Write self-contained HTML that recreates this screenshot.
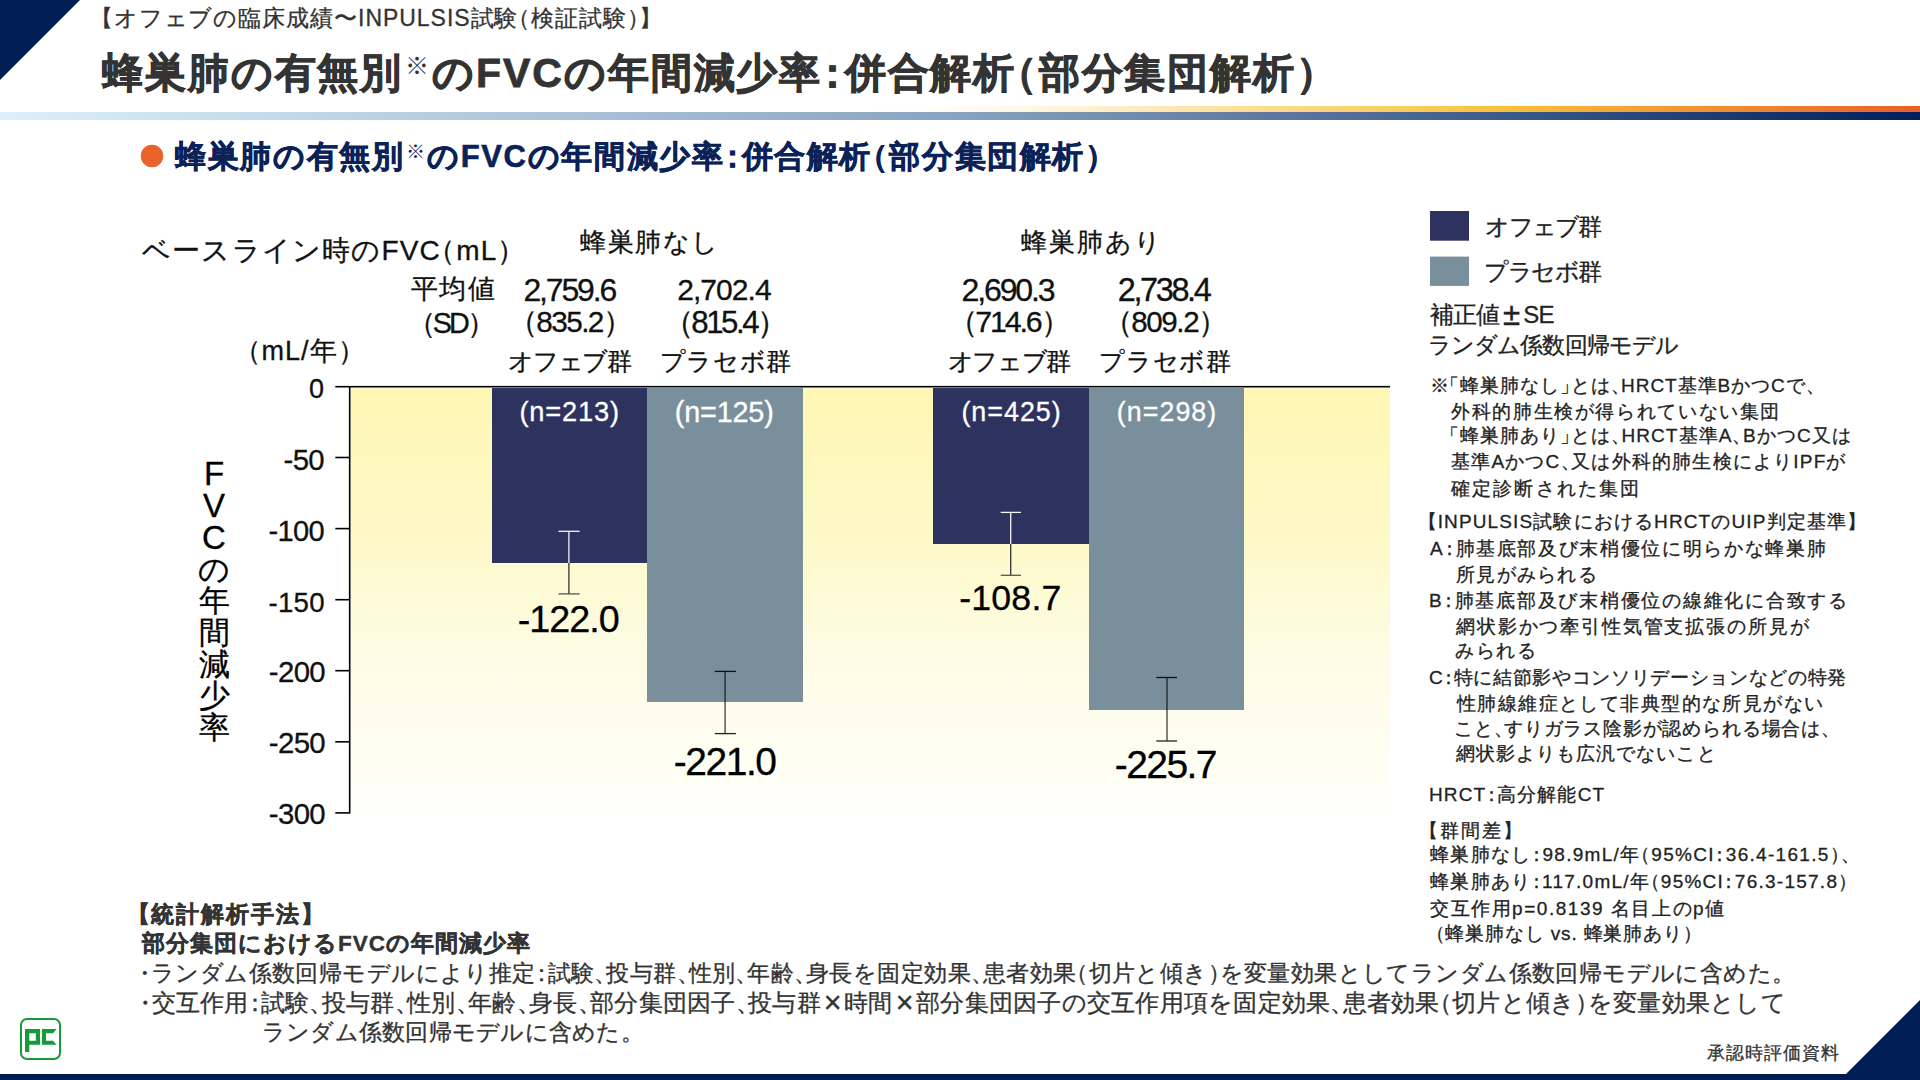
<!DOCTYPE html>
<html lang="ja">
<head>
<meta charset="utf-8">
<style>
html,body{margin:0;padding:0;}
body{width:1920px;height:1080px;position:relative;overflow:hidden;background:#fff;font-family:"Liberation Sans",sans-serif;color:#111;}
.a{position:absolute;white-space:nowrap;line-height:1;-webkit-text-stroke-width:0.3px;}
</style>
</head>
<body>
<svg class="a" style="left:0;top:0" width="1920" height="1080">
  <defs>
    <linearGradient id="go" x1="0" x2="1" y1="0" y2="0">
      <stop offset="0" stop-color="#fff" stop-opacity="0"/>
      <stop offset="0.44" stop-color="#fff" stop-opacity="0"/>
      <stop offset="0.56" stop-color="#fff2d4"/>
      <stop offset="0.78" stop-color="#f8c23a"/>
      <stop offset="1" stop-color="#e8602a"/>
    </linearGradient>
    <linearGradient id="gn" x1="0" x2="1" y1="0" y2="0">
      <stop offset="0" stop-color="#dcf0fb"/>
      <stop offset="0.5" stop-color="#89a2be"/>
      <stop offset="0.78" stop-color="#3d5a8a"/>
      <stop offset="1" stop-color="#001e5a"/>
    </linearGradient>
    <linearGradient id="bg" x1="0" x2="0" y1="0" y2="1">
      <stop offset="0" stop-color="#fff7b4"/>
      <stop offset="0.35" stop-color="#fdf9c8"/>
      <stop offset="0.62" stop-color="#fefce4"/>
      <stop offset="1" stop-color="#fffffa"/>
    </linearGradient>
  </defs>
  <polygon points="0,0 80,0 0,80" fill="#001e54"/>
  <rect x="0" y="106" width="1920" height="6" fill="url(#go)"/>
  <rect x="0" y="112" width="1920" height="8" fill="url(#gn)"/>
  <rect x="0" y="1074" width="1920" height="6" fill="#001b52"/>
  <polygon points="1846,1074 1920,1000 1920,1080 1846,1080" fill="#001d55"/>
  <circle cx="152" cy="156" r="11.2" fill="#e8622a"/>
  <rect x="350.5" y="388.4" width="1039.5" height="426" fill="url(#bg)"/>
  <rect x="492" y="388" width="155" height="175" fill="#2d325e"/>
  <rect x="647" y="388" width="156" height="314" fill="#7a8f9c"/>
  <rect x="933" y="388" width="156" height="156" fill="#2d325e"/>
  <rect x="1089" y="388" width="155" height="322" fill="#7a8f9c"/>
  <rect x="335.3" y="385.9" width="1054.7" height="1.6" fill="#000"/>
  <rect x="348.9" y="386" width="1.6" height="427.6" fill="#000"/>
  <g fill="#000">
    <rect x="335.3" y="456.7" width="14" height="1.6"/>
    <rect x="335.3" y="527.8" width="14" height="1.6"/>
    <rect x="335.3" y="598.9" width="14" height="1.6"/>
    <rect x="335.3" y="669.9" width="14" height="1.6"/>
    <rect x="335.3" y="741.0" width="14" height="1.6"/>
    <rect x="335.3" y="812.1" width="14" height="1.6"/>
  </g>
  <g stroke-width="1.3" fill="none">
    <line x1="568.9" y1="531.3" x2="568.9" y2="563" stroke="#f4f4f8"/>
    <line x1="558.5" y1="531.3" x2="579.6" y2="531.3" stroke="#f4f4f8"/>
    <line x1="568.9" y1="563" x2="568.9" y2="594" stroke="#333"/>
    <line x1="558.5" y1="593.9" x2="579.6" y2="593.9" stroke="#555"/>
    <line x1="725.1" y1="671.4" x2="725.1" y2="733.6" stroke="#000" stroke-opacity="0.62" stroke-width="1.6"/>
    <line x1="714.8" y1="671.4" x2="735.9" y2="671.4" stroke="#111"/>
    <line x1="714.8" y1="733.6" x2="735.9" y2="733.6" stroke="#222"/>
    <line x1="1010.7" y1="512.4" x2="1010.7" y2="544" stroke="#f4f4f8"/>
    <line x1="1000.7" y1="512.4" x2="1021" y2="512.4" stroke="#f4f4f8"/>
    <line x1="1010.7" y1="544" x2="1010.7" y2="575.3" stroke="#333"/>
    <line x1="1000.7" y1="575.3" x2="1021" y2="575.3" stroke="#555"/>
    <line x1="1167" y1="677.5" x2="1167" y2="741" stroke="#000" stroke-opacity="0.62" stroke-width="1.6"/>
    <line x1="1156.3" y1="677.5" x2="1177" y2="677.5" stroke="#111"/>
    <line x1="1156.3" y1="741" x2="1177" y2="741" stroke="#222"/>
  </g>
  <rect x="1430" y="211" width="39" height="29.7" fill="#2d325e"/>
  <rect x="1430" y="256.6" width="39" height="29.3" fill="#7a8f9c"/>
  <rect x="21" y="1019" width="39" height="40" rx="6" ry="6" fill="none" stroke="#169b3a" stroke-width="2"/>
  <path d="M25,1029 H40 V1044.8 H29.3 V1052 H25 Z M29.3,1033.3 V1040.7 H35.8 V1033.3 Z" fill="#169b3a" fill-rule="evenodd"/>
  <path d="M42,1029 H56.7 L53,1033.3 H46 V1040.7 H53 L56.7,1044.8 H42 Z" fill="#169b3a"/>
</svg>
<div class="a" style="left:174px;top:457.4px;width:80px;text-align:center;font-size:33px;color:#000">F</div>
<div class="a" style="left:174px;top:489.1px;width:80px;text-align:center;font-size:33px;color:#000">V</div>
<div class="a" style="left:174px;top:520.8px;width:80px;text-align:center;font-size:33px;color:#000">C</div>
<div class="a" style="left:174px;top:553.5px;width:80px;text-align:center;font-size:31px;color:#000">の</div>
<div class="a" style="left:174px;top:585.2px;width:80px;text-align:center;font-size:31px;color:#000">年</div>
<div class="a" style="left:174px;top:616.9px;width:80px;text-align:center;font-size:31px;color:#000">間</div>
<div class="a" style="left:174px;top:648.6px;width:80px;text-align:center;font-size:31px;color:#000">減</div>
<div class="a" style="left:174px;top:680.3px;width:80px;text-align:center;font-size:31px;color:#000">少</div>
<div class="a" style="left:174px;top:712.0px;width:80px;text-align:center;font-size:31px;color:#000">率</div>
<div class="a t" id="sub" style="left:101.20px;top:7.29px;font-size:23.00px;letter-spacing:0.948px;color:#333"><span style="margin-left:-.5em">【</span>オフェブの臨床成績〜INPULSIS試験<span style="margin-left:-.5em">（</span>検証試験<span style="margin-right:-.5em">）</span><span style="margin-right:-.5em">】</span></div>
<div class="a t" id="title" style="left:102.00px;top:52.58px;font-size:41.00px;letter-spacing:1.900px;color:#333;font-weight:bold;-webkit-text-stroke:0.8px #333">蜂巣肺の有無別<span style="font-size:24px;font-weight:normal;-webkit-text-stroke:0;vertical-align:top;position:relative;top:1.0px;left:1.5px;margin-right:3.0px">※</span>のFVCの年間減少率<span style="margin-left:-.25em;margin-right:-.25em">：</span>併合解析<span style="margin-left:-.5em">（</span>部分集団解析<span style="margin-right:-.5em">）</span></div>
<div class="a t" id="sect" style="left:175.00px;top:140.88px;font-size:31.00px;letter-spacing:1.633px;color:#0b2259;font-weight:bold;-webkit-text-stroke:0.6px #0b2259">蜂巣肺の有無別<span style="font-size:19px;font-weight:normal;-webkit-text-stroke:0;vertical-align:top;position:relative;top:1.0px;left:1.5px;margin-right:2.0px">※</span>のFVCの年間減少率<span style="margin-left:-.25em;margin-right:-.25em">：</span>併合解析<span style="margin-left:-.5em">（</span>部分集団解析<span style="margin-right:-.5em">）</span></div>
<div class="a t" id="base" style="left:142.00px;top:236.84px;font-size:28.00px;letter-spacing:1.179px;color:#111">ベースライン時のFVC<span style="margin-left:-.5em">（</span>mL<span style="margin-right:-.5em">）</span></div>
<div class="a t" id="g1" style="left:580.00px;top:228.53px;font-size:26.00px;letter-spacing:1.500px;color:#111">蜂巣肺なし</div>
<div class="a t" id="g2" style="left:1021.00px;top:228.78px;font-size:26.00px;letter-spacing:1.875px;color:#111">蜂巣肺あり</div>
<div class="a t" id="avg" style="left:411.00px;top:275.86px;font-size:27.00px;letter-spacing:1.250px;color:#111">平均値</div>
<div class="a t" id="sd" style="left:421.30px;top:308.78px;font-size:28.80px;letter-spacing:-3.055px;color:#111"><span style="margin-left:-.5em">（</span>SD<span style="margin-right:-.5em">）</span></div>
<div class="a t" id="mly" style="left:247.00px;top:337.51px;font-size:27.00px;letter-spacing:1.000px;color:#111"><span style="margin-left:-.5em">（</span>mL/年<span style="margin-right:-.5em">）</span></div>
<div class="a t" id="m1" style="left:523.40px;top:273.74px;font-size:31.99px;letter-spacing:-2.132px;color:#111">2,759.6</div>
<div class="a t" id="m2" style="left:677.20px;top:274.74px;font-size:30.04px;letter-spacing:-0.950px;color:#111">2,702.4</div>
<div class="a t" id="m3" style="left:961.50px;top:273.74px;font-size:32.08px;letter-spacing:-2.153px;color:#111">2,690.3</div>
<div class="a t" id="m4" style="left:1117.80px;top:273.99px;font-size:32.50px;letter-spacing:-2.417px;color:#111">2,738.4</div>
<div class="a t" id="s1" style="left:522.70px;top:307.16px;font-size:29.72px;letter-spacing:-1.574px;color:#111"><span style="margin-left:-.5em">（</span>835.2<span style="margin-right:-.5em">）</span></div>
<div class="a t" id="s2" style="left:678.30px;top:306.81px;font-size:31.24px;letter-spacing:-2.457px;color:#111"><span style="margin-left:-.5em">（</span>815.4<span style="margin-right:-.5em">）</span></div>
<div class="a t" id="s3" style="left:962.70px;top:305.56px;font-size:30.38px;letter-spacing:-2.154px;color:#111"><span style="margin-left:-.5em">（</span>714.6<span style="margin-right:-.5em">）</span></div>
<div class="a t" id="s4" style="left:1117.50px;top:306.71px;font-size:29.54px;letter-spacing:-1.410px;color:#111"><span style="margin-left:-.5em">（</span>809.2<span style="margin-right:-.5em">）</span></div>
<div class="a t" id="o1" style="left:508.00px;top:348.75px;font-size:25.00px;letter-spacing:-1.175px;color:#111">オフェブ群</div>
<div class="a t" id="p1" style="left:659.90px;top:348.55px;font-size:25.00px;letter-spacing:0.550px;color:#111">プラセボ群</div>
<div class="a t" id="o2" style="left:947.80px;top:349.00px;font-size:25.00px;letter-spacing:-1.325px;color:#111">オフェブ群</div>
<div class="a t" id="p2" style="left:1099.00px;top:348.60px;font-size:25.00px;letter-spacing:0.800px;color:#111">プラセボ群</div>
<div class="a t" id="t0" style="left:309.00px;top:376.46px;font-size:27.00px;letter-spacing:0.000px;color:#111">0</div>
<div class="a t" id="t50" style="left:283.60px;top:445.16px;font-size:29.35px;letter-spacing:-0.675px;color:#111">-50</div>
<div class="a t" id="t100" style="left:268.60px;top:517.11px;font-size:29.11px;letter-spacing:-0.715px;color:#111">-100</div>
<div class="a t" id="t150" style="left:268.60px;top:589.21px;font-size:27.65px;letter-spacing:0.210px;color:#111">-150</div>
<div class="a t" id="t200" style="left:268.80px;top:657.46px;font-size:29.37px;letter-spacing:-0.632px;color:#111">-200</div>
<div class="a t" id="t250" style="left:268.80px;top:728.06px;font-size:29.37px;letter-spacing:-0.632px;color:#111">-250</div>
<div class="a t" id="t300" style="left:268.80px;top:799.26px;font-size:29.37px;letter-spacing:-0.632px;color:#111">-300</div>
<div class="a t" id="n1" style="left:519.40px;top:397.91px;font-size:27.25px;letter-spacing:0.834px;color:#fff">(n=213)</div>
<div class="a t" id="n2" style="left:674.80px;top:397.91px;font-size:28.81px;letter-spacing:-0.179px;color:#fff">(n=125)</div>
<div class="a t" id="n3" style="left:961.40px;top:398.76px;font-size:26.86px;letter-spacing:1.000px;color:#fff">(n=425)</div>
<div class="a t" id="n4" style="left:1116.80px;top:398.76px;font-size:26.78px;letter-spacing:1.071px;color:#fff">(n=298)</div>
<div class="a t" id="v1" style="left:517.80px;top:600.61px;font-size:37.73px;letter-spacing:-0.994px;color:#000">-122.0</div>
<div class="a t" id="v2" style="left:673.80px;top:743.06px;font-size:38.97px;letter-spacing:-1.479px;color:#000">-221.0</div>
<div class="a t" id="v3" style="left:959.20px;top:581.16px;font-size:35.67px;letter-spacing:0.208px;color:#000">-108.7</div>
<div class="a t" id="v4" style="left:1114.80px;top:745.21px;font-size:39.06px;letter-spacing:-1.590px;color:#000">-225.7</div>
<div class="a t" id="lg1" style="left:1485.40px;top:215.27px;font-size:24.00px;letter-spacing:-1.850px;color:#222">オフェブ群</div>
<div class="a t" id="lg2" style="left:1484.40px;top:260.47px;font-size:24.00px;letter-spacing:-1.600px;color:#222">プラセボ群</div>
<div class="a t" id="se" style="left:1430.00px;top:302.52px;font-size:24.00px;letter-spacing:-0.900px;color:#222">補正値<span style="display:inline-block;width:1em;text-align:center;transform:scale(1.3)">±</span>SE</div>
<div class="a t" id="rnd" style="left:1427.80px;top:334.24px;font-size:23.00px;letter-spacing:-0.860px;color:#222">ランダム係数回帰モデル</div>
<div class="a t" id="nt1" style="left:1430.00px;top:376.22px;font-size:19.00px;letter-spacing:0.955px;color:#222">※<span style="margin-left:-.5em">「</span>蜂巣肺なし<span style="margin-right:-.5em">」</span>とは<span style="margin-right:-.5em">、</span>HRCT基準BかつCで<span style="margin-right:-.5em">、</span></div>
<div class="a t" id="nt2" style="left:1451.00px;top:401.52px;font-size:19.00px;letter-spacing:1.633px;color:#222">外科的肺生検が得られていない集団</div>
<div class="a t" id="nt3" style="left:1449.00px;top:426.27px;font-size:19.00px;letter-spacing:1.087px;color:#222"><span style="margin-left:-.5em">「</span>蜂巣肺あり<span style="margin-right:-.5em">」</span>とは<span style="margin-right:-.5em">、</span>HRCT基準A<span style="margin-right:-.5em">、</span>BかつC又は</div>
<div class="a t" id="nt4" style="left:1451.00px;top:451.77px;font-size:19.00px;letter-spacing:1.190px;color:#222">基準AかつC<span style="margin-right:-.5em">、</span>又は外科的肺生検によりIPFが</div>
<div class="a t" id="nt5" style="left:1451.00px;top:478.77px;font-size:19.00px;letter-spacing:2.125px;color:#222">確定診断された集団</div>
<div class="a t" id="cr0" style="left:1427.00px;top:512.37px;font-size:19.00px;letter-spacing:1.130px;color:#222"><span style="margin-left:-.5em">【</span>INPULSIS試験におけるHRCTのUIP判定基準<span style="margin-right:-.5em">】</span></div>
<div class="a t" id="cr1" style="left:1430.00px;top:539.12px;font-size:19.00px;letter-spacing:1.658px;color:#222">A<span style="margin-left:-.25em;margin-right:-.25em">：</span>肺基底部及び末梢優位に明らかな蜂巣肺</div>
<div class="a t" id="cr2" style="left:1456.00px;top:564.62px;font-size:19.00px;letter-spacing:1.250px;color:#222">所見がみられる</div>
<div class="a t" id="cr3" style="left:1429.00px;top:590.62px;font-size:19.00px;letter-spacing:1.750px;color:#222">B<span style="margin-left:-.25em;margin-right:-.25em">：</span>肺基底部及び末梢優位の線維化に合致する</div>
<div class="a t" id="cr4" style="left:1456.00px;top:617.07px;font-size:19.00px;letter-spacing:1.844px;color:#222">網状影かつ牽引性気管支拡張の所見が</div>
<div class="a t" id="cr5" style="left:1455.00px;top:640.97px;font-size:19.00px;letter-spacing:1.500px;color:#222">みられる</div>
<div class="a t" id="cr6" style="left:1429.00px;top:667.87px;font-size:19.00px;letter-spacing:0.667px;color:#222">C<span style="margin-left:-.25em;margin-right:-.25em">：</span>特に結節影やコンソリデーションなどの特発</div>
<div class="a t" id="cr7" style="left:1457.00px;top:693.82px;font-size:19.00px;letter-spacing:1.412px;color:#222">性肺線維症として非典型的な所見がない</div>
<div class="a t" id="cr8" style="left:1454.00px;top:718.52px;font-size:19.00px;letter-spacing:0.816px;color:#222">こと<span style="margin-right:-.5em">、</span>すりガラス陰影が認められる場合は<span style="margin-right:-.5em">、</span></div>
<div class="a t" id="cr9" style="left:1456.00px;top:744.42px;font-size:19.00px;letter-spacing:1.042px;color:#222">網状影よりも広汎でないこと</div>
<div class="a t" id="hrct" style="left:1429.00px;top:784.62px;font-size:19.00px;letter-spacing:1.150px;color:#222">HRCT<span style="margin-left:-.25em;margin-right:-.25em">：</span>高分解能CT</div>
<div class="a t" id="gd0" style="left:1428.00px;top:820.92px;font-size:19.00px;letter-spacing:2.000px;color:#222"><span style="margin-left:-.5em">【</span>群間差<span style="margin-right:-.5em">】</span></div>
<div class="a t" id="gd1" style="left:1430.00px;top:845.42px;font-size:19.00px;letter-spacing:1.312px;color:#222">蜂巣肺なし<span style="margin-left:-.25em;margin-right:-.25em">：</span>98.9mL/年<span style="margin-left:-.5em">（</span>95%CI<span style="margin-left:-.25em;margin-right:-.25em">：</span>36.4-161.5<span style="margin-right:-.5em">）</span><span style="margin-right:-.5em">、</span></div>
<div class="a t" id="gd2" style="left:1430.00px;top:872.42px;font-size:19.00px;letter-spacing:1.250px;color:#222">蜂巣肺あり<span style="margin-left:-.25em;margin-right:-.25em">：</span>117.0mL/年<span style="margin-left:-.5em">（</span>95%CI<span style="margin-left:-.25em;margin-right:-.25em">：</span>76.3-157.8<span style="margin-right:-.5em">）</span></div>
<div class="a t" id="gd3" style="left:1430.00px;top:898.77px;font-size:19.00px;letter-spacing:1.528px;color:#222">交互作用p=0.8139 名目上のp値</div>
<div class="a t" id="gd4" style="left:1435.00px;top:924.37px;font-size:19.00px;letter-spacing:0.844px;color:#222"><span style="margin-left:-.5em">（</span>蜂巣肺なし vs. 蜂巣肺あり<span style="margin-right:-.5em">）</span></div>
<div class="a t" id="bs0" style="left:138.00px;top:902.89px;font-size:23.00px;letter-spacing:1.857px;color:#333;font-weight:bold;-webkit-text-stroke:0.4px #333"><span style="margin-left:-.5em">【</span>統計解析手法<span style="margin-right:-.5em">】</span></div>
<div class="a t" id="bs1" style="left:142.00px;top:933.45px;font-size:22.50px;letter-spacing:1.000px;color:#333;font-weight:bold;-webkit-text-stroke:0.4px #333">部分集団におけるFVCの年間減少率</div>
<div class="a t" id="bs2" style="left:139.00px;top:962.19px;font-size:23.00px;letter-spacing:0.418px;color:#333"><span style="margin-left:-.25em;margin-right:-.25em">・</span>ランダム係数回帰モデルにより推定<span style="margin-left:-.25em;margin-right:-.25em">：</span>試験<span style="margin-right:-.5em">、</span>投与群<span style="margin-right:-.5em">、</span>性別<span style="margin-right:-.5em">、</span>年齢<span style="margin-right:-.5em">、</span>身長を固定効果<span style="margin-right:-.5em">、</span>患者効果<span style="margin-left:-.5em">（</span>切片と傾き<span style="margin-right:-.5em">）</span>を変量効果としてランダム係数回帰モデルに含めた<span style="margin-right:-.5em">。</span></div>
<div class="a t" id="bs3" style="left:139.00px;top:992.28px;font-size:23.50px;letter-spacing:0.236px;color:#333"><span style="margin-left:-.25em;margin-right:-.25em">・</span>交互作用<span style="margin-left:-.25em;margin-right:-.25em">：</span>試験<span style="margin-right:-.5em">、</span>投与群<span style="margin-right:-.5em">、</span>性別<span style="margin-right:-.5em">、</span>年齢<span style="margin-right:-.5em">、</span>身長<span style="margin-right:-.5em">、</span>部分集団因子<span style="margin-right:-.5em">、</span>投与群<span style="display:inline-block;width:1em;text-align:center;transform:scale(1.3)">×</span>時間<span style="display:inline-block;width:1em;text-align:center;transform:scale(1.3)">×</span>部分集団因子の交互作用項を固定効果<span style="margin-right:-.5em">、</span>患者効果<span style="margin-left:-.5em">（</span>切片と傾き<span style="margin-right:-.5em">）</span>を変量効果として</div>
<div class="a t" id="bs4" style="left:262.00px;top:1021.44px;font-size:23.00px;letter-spacing:0.233px;color:#333">ランダム係数回帰モデルに含めた<span style="margin-right:-.5em">。</span></div>
<div class="a t" id="appr" style="left:1707.00px;top:1043.84px;font-size:18.00px;letter-spacing:1.000px;color:#333">承認時評価資料</div>
</body>
</html>
